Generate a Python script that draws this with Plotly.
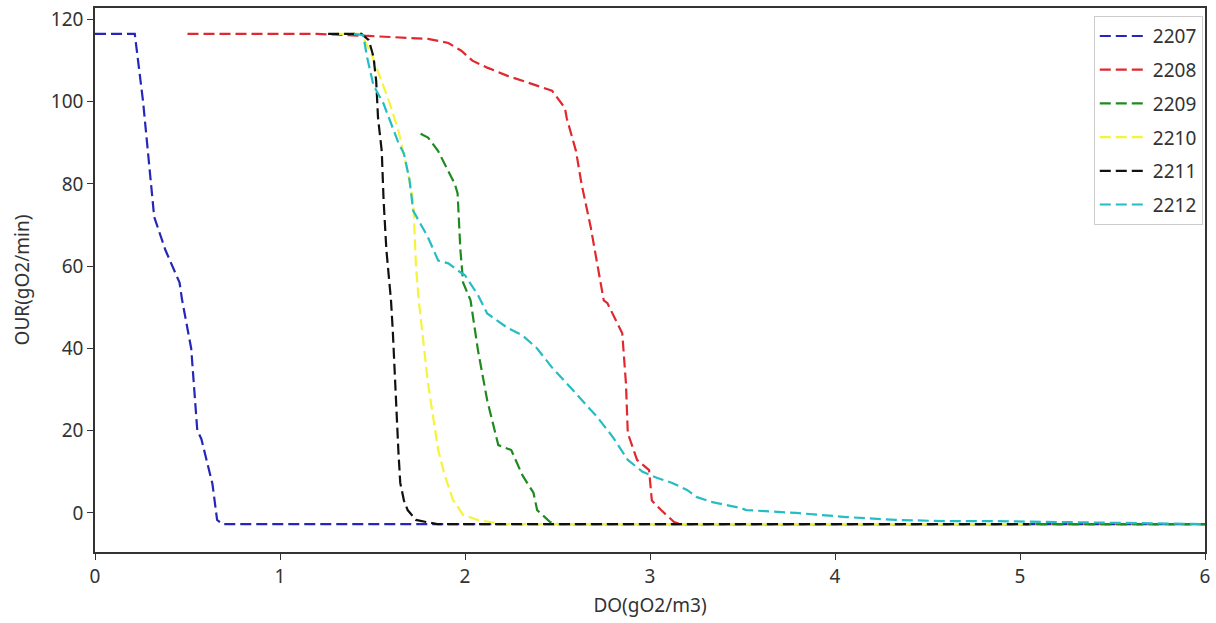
import plotly.graph_objects as go

# ---- data ----
x_2207 = [0.0, 0.215, 0.26, 0.285, 0.32, 0.38, 0.457, 0.47, 0.52, 0.553, 0.575, 0.635, 0.66, 0.69, 6.0]
y_2207 = [116.5, 116.5, 100, 88, 72, 64, 56, 52, 40, 20, 18, 7, -1.7, -2.7, -2.7]

x_2208 = [0.5, 1.2, 1.48, 1.80, 1.91, 1.98, 2.04, 2.12, 2.23, 2.34, 2.47, 2.54, 2.55, 2.60, 2.63, 2.68,
          2.715, 2.75, 2.77, 2.85, 2.87, 2.88, 2.93, 2.995, 3.01, 3.06, 3.13, 3.16, 6.0]
y_2208 = [116.5, 116.5, 116, 115.3, 114.3, 112.4, 110, 108.3, 106.3, 104.6, 102.7, 98.5, 96, 88, 80, 69.4,
          60.7, 51.7, 51, 43.7, 31.5, 19.4, 12.9, 10.4, 3, 0.7, -2.2, -2.7, -2.7]

x_2209 = [1.76, 1.80, 1.855, 1.91, 1.945, 1.96, 1.975, 1.99, 2.03, 2.07, 2.12, 2.18, 2.25, 2.31, 2.37,
          2.39, 2.46, 2.5, 6.0]
y_2209 = [92.2, 91.3, 88, 83, 80, 77.7, 64, 56, 51.7, 39.6, 27.4, 16.5, 15.3, 9.2, 4.9,
          0.7, -2.2, -2.7, -2.7]

x_2210 = [1.3, 1.44, 1.5, 1.59, 1.64, 1.69, 1.72, 1.735, 1.75, 1.80, 1.855, 1.89, 1.935, 1.99, 2.07, 2.2, 5.05]
y_2210 = [116.5, 116.5, 111, 100, 93, 83, 76, 60, 51.7, 31.5, 15.3, 9.2, 3.2, -0.5, -1.7, -2.7, -2.7]

x_2211 = [1.26, 1.44, 1.48, 1.505, 1.52, 1.53, 1.55, 1.56, 1.575, 1.6, 1.61, 1.625, 1.64, 1.65, 1.67,
          1.69, 1.735, 1.79, 1.85, 5.05]
y_2211 = [116.5, 116.5, 115, 111, 105, 96, 88, 76, 64, 51.7, 44, 27.4, 15, 7.3, 3,
          0.7, -1.7, -2.2, -2.7, -2.7]

x_2212 = [1.4, 1.45, 1.47, 1.505, 1.56, 1.64, 1.67, 1.70, 1.72, 1.75, 1.80, 1.855, 1.91, 1.96, 2.0, 2.07,
          2.12, 2.23, 2.31, 2.39, 2.47, 2.55, 2.645, 2.715, 2.80, 2.88, 2.96, 3.04, 3.12, 3.2, 3.25,
          3.33, 3.49, 3.52, 3.79, 4.06, 4.33, 4.6, 4.87, 5.13, 5.4, 6.0]
y_2212 = [116.5, 116.2, 111, 104, 99.5, 90, 87.4, 81, 73.5, 71, 67, 61.4, 60.7, 59, 57.8, 53,
          48.5, 45, 43.2, 40, 35.4, 31.5, 26.7, 23.3, 18.4, 12.9, 10, 8.5, 7.3, 5.6, 3.9,
          2.7, 1.2, 0.7, 0, -1, -1.7, -2, -2, -2.2, -2.4, -2.7]

series_names = ["2207", "2208", "2209", "2210", "2211", "2212"]
series_x = [x_2207, x_2208, x_2209, x_2210, x_2211, x_2212]
series_y = [y_2207, y_2208, y_2209, y_2210, y_2211, y_2212]
colors = ["#2626b8", "#e0282e", "#1f8a1f", "#f4f43c", "#111111", "#26bcc4"]

x_ticks = [0, 1, 2, 3, 4, 5, 6]
y_ticks = [0, 20, 40, 60, 80, 100, 120]

fig = go.Figure()
for name, xs, ys, c in zip(series_names, series_x, series_y, colors):
    fig.add_trace(go.Scatter(
        x=xs, y=ys, mode="lines", name=name, legendgroup=name,
        line=dict(color=c, width=2.2, dash="11px,5px"),
    ))

fam = "Noto Sans, Open Sans, DejaVu Sans, sans-serif"
tickfont = dict(family=fam, size=19, color="#333333")
titlefont = dict(family=fam, size=19, color="#333333")

fig.update_layout(
    width=1216, height=623,
    margin=dict(l=95, r=6, t=7, b=71),
    paper_bgcolor="white", plot_bgcolor="white",
    font=dict(family=fam, size=19, color="#333333"),
    showlegend=True,
    legend=dict(
        x=0.998, y=0.985, xanchor="right", yanchor="top",
        bgcolor="rgba(255,255,255,0.9)", bordercolor="#cccccc", borderwidth=1,
        font=dict(family=fam, size=19, color="#333333"),
        tracegroupgap=6, itemwidth=48,
    ),
    xaxis=dict(
        range=[0, 6], tickvals=x_ticks, ticks="outside", ticklen=6, tickcolor="#333",
        tickfont=tickfont,
        showline=True, linecolor="#333", linewidth=1.5, mirror=True,
        showgrid=False, zeroline=False,
        title=dict(text="DO(gO2/m3)", standoff=11, font=titlefont),
    ),
    yaxis=dict(
        range=[-9.5, 122.8], tickvals=y_ticks, ticks="outside", ticklen=6, tickcolor="#333",
        tickfont=tickfont,
        showline=True, linecolor="#333", linewidth=1.5, mirror=True,
        showgrid=False, zeroline=False,
        title=dict(text="OUR(gO2/min)", standoff=16, font=titlefont),
    ),
)

fig.write_html("out.html")
